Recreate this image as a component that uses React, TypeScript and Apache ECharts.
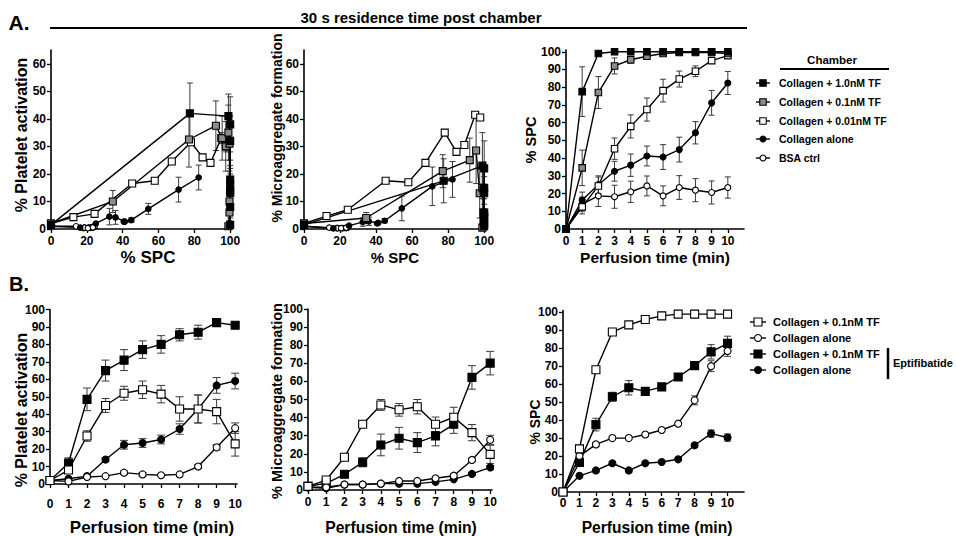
import React, { useEffect, useRef } from 'react';
import * as echarts from 'echarts';

const FONT = '"Liberation Sans", Arial, Helvetica, sans-serif';

// ---------- shared categories ----------
const TIME = [0, 1, 2, 3, 4, 5, 6, 7, 8, 9, 10];
const SPC_TICKS = [0, 20, 40, 60, 80, 100];
const Y65_TICKS = [0, 10, 20, 30, 40, 50, 60];
const Y100_TICKS = [0, 10, 20, 30, 40, 50, 60, 70, 80, 90, 100];

// ---------- Panel A names ----------
const A_NAMES = ['Collagen + 1.0nM TF', 'Collagen + 0.1nM TF', 'Collagen + 0.01nM TF', 'Collagen alone', 'BSA ctrl'];

// ---------- Panel A3: % SPC vs perfusion time ----------
const A_SPC_TF10 = [0, 77.5, 99, 100, 100, 100, 100, 100, 100, 100, 100];
const A_SPC_TF01 = [0, 34.5, 77, 92, 95.5, 97.5, 99, 99.6, 99.6, 99.6, 99];
const A_SPC_TF001 = [0, 12.5, 24.3, 45.3, 57.9, 67.4, 78.1, 84.6, 89, 95, 97.8];
const A_SPC_ALONE = [0, 16.3, 25, 32.6, 36, 41.2, 40.6, 44.8, 54.3, 71.2, 82.4];
const A_SPC_BSA = [0, 14, 18.7, 18.2, 21, 24.3, 18.7, 23.4, 21.9, 20.6, 23.4];
const A_SPC_TF10_ERR = [0, 14, 1, 0.5, 0.5, 0.5, 0.5, 0.5, 0.5, 0.5, 0.5];
const A_SPC_TF01_ERR = [0, 10, 9, 4.5, 2, 1.5, 1, 0.5, 0.5, 0.5, 0.5];
const A_SPC_TF001_ERR = [0, 4, 5, 6, 6.5, 6.5, 6.4, 4.5, 3, 1, 1];
const A_SPC_ALONE_ERR = [0, 4.5, 5, 5.6, 6.3, 5.6, 7, 7, 6.3, 7, 6.5];
const A_SPC_BSA_ERR = [0, 4, 6, 6.5, 6, 5.6, 5.6, 6.7, 6.5, 6.5, 6];

// ---------- Panel A1: % platelet activation vs % SPC ----------
const A_PA_TF10 = [1.5, 42, 41, 38, 32, 18, 16, 14, 13, 8, 1.5];
const A_PA_TF01 = [2, 10, 32.5, 37.5, 33, 30, 35, 31, 10, 6, 1];
const A_PA_TF001 = [2, 4.3, 5.5, 16.5, 17.5, 24.5, 31.5, 26, 24, 33, 30];
const A_PA_ALONE = [1, 0.5, 2, 4.5, 4.2, 2.7, 2.7, 3.2, 7.3, 14.3, 18.7];
const A_PA_BSA = [1, 1, 0.5, 0.3, 0.5, 0.8, 0.5, 0.5, 0.4, 0.3, 0.6];
const A_PA_TF10_ERR = [0, 11, 8, 10, 9, 7, 6, 6, 5, 4, 1];
const A_PA_TF01_ERR = [0, 4, 10, 9, 8, 9, 10, 10, 5, 3, 1];
const A_PA_TF001_ERR = [0, 0.5, 0.5, 1, 1, 1, 1, 1, 1, 2, 2];
const A_PA_ALONE_ERR = [0, 0.5, 0.5, 3, 2.5, 0.5, 0.5, 0.8, 2, 4.5, 4.5];
const A_PA_BSA_ERR = [0, 0.3, 0.3, 0.3, 0.3, 0.3, 0.3, 0.3, 0.3, 0.3, 0.3];

// ---------- Panel A2: % microaggregate formation vs % SPC ----------
const A_MA_TF10 = [1.5, 17.5, 23, 22, 15, 13, 6, 5, 4, 2, 1];
const A_MA_TF01 = [2, 4, 21, 25, 28.5, 13, 15, 14, 6, 3, 0.5];
const A_MA_TF001 = [2, 4.7, 7, 17.5, 17, 24, 35, 28, 30.5, 41.5, 40.5];
const A_MA_ALONE = [1, 0.2, 1.2, 2.5, 2.8, 2.2, 2, 3, 7.5, 15.5, 18];
const A_MA_BSA = [1, 0.5, 0.3, 0.3, 0.3, 0.5, 0.3, 0.3, 0.3, 0.3, 0.5];
const A_MA_TF10_ERR = [0, 8, 12, 10, 8, 6, 5, 4, 3, 2, 1];
const A_MA_TF01_ERR = [0, 2, 6, 8, 12, 9, 8, 7, 5, 3, 1];
const A_MA_TF001_ERR = [0, 0.5, 0.5, 0.5, 0.5, 0.5, 0.5, 0.5, 0.5, 0.5, 0.5];
const A_MA_ALONE_ERR = [0, 0.3, 0.5, 1.5, 1.5, 0.5, 0.5, 0.8, 4.5, 7, 6.5];
const A_MA_BSA_ERR = [0, 0.3, 0.3, 0.3, 0.3, 0.3, 0.3, 0.3, 0.3, 0.3, 0.3];

// ---------- Panel B names ----------
const B_NAMES = ['Collagen + 0.1nM TF', 'Collagen alone', 'Collagen + 0.1nM TF', 'Collagen alone'];

// ---------- Panel B1: % platelet activation ----------
const B_PA_TF01 = [2, 8, 27.5, 45, 52, 54, 51.5, 43, 43, 41.5, 23];
const B_PA_ALONE = [2, 1.5, 4, 4.5, 6.5, 5.5, 5, 5.5, 10, 21, 32];
const B_PA_TF01_EPT = [2, 12, 48.5, 65, 71, 77, 80, 85.5, 87, 92.5, 91];
const B_PA_ALONE_EPT = [2, 3, 4.5, 14, 22.5, 23.5, 25.5, 31.5, 43, 56.5, 59];
const B_PA_TF01_ERR = [0, 1.5, 3, 4, 4, 5, 5, 7, 8, 7, 7];
const B_PA_ALONE_ERR = [0, 0.5, 0.5, 0.5, 1, 1, 0.5, 0.5, 1, 1.5, 3];
const B_PA_TF01_EPT_ERR = [0, 3, 6.5, 6, 6, 5, 5, 3.5, 4, 1, 1];
const B_PA_ALONE_EPT_ERR = [0, 0.5, 0.5, 1, 2.5, 2.5, 2.5, 3, 8, 4.5, 4.5];

// ---------- Panel B2: % microaggregate formation ----------
const B_MA_TF01 = [2, 5.5, 18.1, 36.3, 47, 44.3, 46, 36.3, 40.2, 31.7, 19.7];
const B_MA_ALONE = [1.5, 1.5, 3, 3, 3.5, 5, 5, 6.5, 7.9, 16.6, 27.7];
const B_MA_TF01_EPT = [2, 3.7, 8.7, 15.3, 24.9, 28.6, 26.2, 29.9, 36.3, 62.2, 70.1];
const B_MA_ALONE_EPT = [1.5, 1, 3, 3, 3.5, 3.5, 3.5, 4.5, 5.9, 8.9, 12.5];
const B_MA_TF01_ERR = [0, 0.5, 1, 1, 3, 3.5, 4, 4, 5.5, 4.5, 5];
const B_MA_ALONE_ERR = [0, 0.3, 0.3, 0.3, 0.5, 0.5, 0.5, 0.5, 0.8, 1, 2.5];
const B_MA_TF01_EPT_ERR = [0, 0.5, 1, 2.5, 6, 6, 5.5, 5.5, 5, 6.5, 6.5];
const B_MA_ALONE_EPT_ERR = [0, 0.3, 0.3, 0.3, 0.3, 0.3, 0.3, 0.3, 0.5, 0.8, 1];

// ---------- Panel B3: % SPC ----------
const B_SPC_TF01 = [0, 24, 68, 89, 93, 96, 98, 99, 99, 99, 99];
const B_SPC_ALONE = [0, 20, 26.5, 30, 30, 32, 34.5, 38, 51, 70, 78.5];
const B_SPC_TF01_EPT = [0, 16.5, 37.5, 53, 58, 56, 58.5, 64, 70.3, 78, 82.7];
const B_SPC_ALONE_EPT = [0, 9, 12, 16, 12, 16, 16.7, 18.2, 26, 32.5, 30.3];
const B_SPC_TF01_ERR = [0, 2, 1.5, 1, 1, 0.5, 0.5, 0.5, 0.5, 0.5, 0.5];
const B_SPC_ALONE_ERR = [0, 1, 1, 0.5, 0.5, 0.5, 0.5, 0.5, 2.5, 3, 3];
const B_SPC_TF01_EPT_ERR = [0, 1.5, 3.5, 2.5, 4, 2, 1, 1, 1, 4, 4];
const B_SPC_ALONE_EPT_ERR = [0, 0.5, 0.5, 0.5, 0.5, 0.5, 0.5, 0.5, 1, 2, 2];

// ---------- styles ----------
type Sty = { symbol: 'rect' | 'circle'; fill: string };
const BLACK_SQ: Sty = { symbol: 'rect', fill: '#000' };
const GRAY_SQ: Sty = { symbol: 'rect', fill: '#8c8c8c' };
const WHITE_SQ: Sty = { symbol: 'rect', fill: '#fff' };
const BLACK_CI: Sty = { symbol: 'circle', fill: '#000' };
const WHITE_CI: Sty = { symbol: 'circle', fill: '#fff' };
const A_STY = [BLACK_SQ, GRAY_SQ, WHITE_SQ, BLACK_CI, WHITE_CI];
const B_STY = [WHITE_SQ, WHITE_CI, BLACK_SQ, BLACK_CI];

function lineSeries(name: string, xs: number[], ys: number[], sty: Sty, gi: number, sqSize: number, ciSize: number) {
  return {
    type: 'line',
    name,
    xAxisIndex: gi,
    yAxisIndex: gi,
    data: xs.map((x, i) => [x, ys[i]]),
    symbol: sty.symbol,
    symbolSize: sty.symbol === 'rect' ? sqSize : ciSize,
    showSymbol: true,
    showAllSymbol: true,
    clip: false,
    silent: true,
    z: 3,
    lineStyle: { color: '#000', width: 1.4 },
    itemStyle: { color: sty.fill, borderColor: '#000', borderWidth: 1.1 },
  };
}

function errSeries(xs: number[], ys: number[], es: number[], gi: number, cap: number) {
  return {
    type: 'custom',
    xAxisIndex: gi,
    yAxisIndex: gi,
    silent: true,
    z: 2,
    data: xs.map((x, i) => [x, ys[i], es[i]]),
    renderItem: (_p: any, api: any) => {
      const x = api.value(0);
      const y = api.value(1);
      const e = api.value(2);
      if (!e || e < 0.8) return { type: 'group', children: [] };
      const t = api.coord([x, y + e]);
      const b = api.coord([x, Math.max(0, y - e)]);
      const st = { stroke: '#3a3a3a', lineWidth: 1 };
      return {
        type: 'group',
        children: [
          { type: 'line', shape: { x1: t[0], y1: t[1], x2: b[0], y2: b[1] }, style: st },
          { type: 'line', shape: { x1: t[0] - cap, y1: t[1], x2: t[0] + cap, y2: t[1] }, style: st },
          { type: 'line', shape: { x1: b[0] - cap, y1: b[1], x2: b[0] + cap, y2: b[1] }, style: st },
        ],
      };
    },
  };
}

function axis(min: number, max: number, ticks: number[], interval: number, margin: number) {
  return {
    type: 'value',
    min,
    max,
    interval,
    axisLine: { show: true, onZero: false, lineStyle: { color: '#000', width: 1.6 } },
    axisTick: { show: true, length: 4, customValues: ticks, lineStyle: { color: '#000', width: 1.3 } },
    axisLabel: {
      show: true,
      customValues: ticks,
      color: '#000',
      fontSize: 12,
      fontWeight: 'bold',
      fontFamily: FONT,
      margin,
    },
    splitLine: { show: false },
  };
}

function txt(text: string, x: number, y: number, size: number, opts: any = {}) {
  return {
    type: 'text',
    x,
    y,
    rotation: opts.rot || 0,
    silent: true,
    style: {
      text,
      fill: '#000',
      font: `bold ${size}px ${FONT}`,
      align: opts.align || 'center',
      verticalAlign: 'middle',
    },
  };
}

function marker(sty: Sty, cx: number, cy: number, size: number) {
  const style = { fill: sty.fill, stroke: '#000', lineWidth: 1.1 };
  if (sty.symbol === 'rect') {
    return { type: 'rect', silent: true, shape: { x: cx - size / 2, y: cy - size / 2, width: size, height: size }, style };
  }
  return { type: 'circle', silent: true, shape: { cx, cy, r: size / 2 }, style };
}

function legendItem(sty: Sty, name: string, x0: number, x1: number, y: number, tx: number, sq: number, ci: number, fs: number) {
  return [
    { type: 'line', silent: true, shape: { x1: x0, y1: y, x2: x1, y2: y }, style: { stroke: '#000', lineWidth: 1.4 } },
    marker(sty, (x0 + x1) / 2, y, sty.symbol === 'rect' ? sq : ci),
    txt(name, tx, y, fs, { align: 'left' }),
  ];
}

export default function App() {
  const ref = useRef<HTMLDivElement>(null);

  useEffect(() => {
    if (!ref.current) return;
    const chart = echarts.init(ref.current, undefined, { renderer: 'svg' });

    const grids = [
      { left: 51, top: 50, width: 181, height: 179 },
      { left: 304, top: 50, width: 182, height: 179 },
      { left: 566, top: 50, width: 178, height: 179 },
      { left: 50, top: 309.5, width: 187, height: 174.5 },
      { left: 308, top: 309, width: 184, height: 181 },
      { left: 563, top: 310.5, width: 181, height: 181.5 },
    ];
    const xAxes = [
      { gridIndex: 0, ...axis(0, 101, SPC_TICKS, 20, 6) },
      { gridIndex: 1, ...axis(0, 101, SPC_TICKS, 20, 6) },
      { gridIndex: 2, ...axis(0, 11, TIME, 1, 6) },
      { gridIndex: 3, ...axis(0, 10.1, TIME, 1, 14) },
      { gridIndex: 4, ...axis(0, 10.1, TIME, 1, 6) },
      { gridIndex: 5, ...axis(0, 11, TIME, 1, 5) },
    ];
    const yAxes = [
      { gridIndex: 0, ...axis(0, 65, Y65_TICKS, 10, 5) },
      { gridIndex: 1, ...axis(0, 65, Y65_TICKS, 10, 5) },
      { gridIndex: 2, ...axis(0, 101, Y100_TICKS, 10, 5) },
      { gridIndex: 3, ...axis(0, 100, Y100_TICKS, 10, 5) },
      { gridIndex: 4, ...axis(0, 100, Y100_TICKS, 10, 5) },
      { gridIndex: 5, ...axis(0, 101, Y100_TICKS, 10, 5) },
    ];

    const aSpc = [A_SPC_TF10, A_SPC_TF01, A_SPC_TF001, A_SPC_ALONE, A_SPC_BSA];
    const aSpcErr = [A_SPC_TF10_ERR, A_SPC_TF01_ERR, A_SPC_TF001_ERR, A_SPC_ALONE_ERR, A_SPC_BSA_ERR];
    const aPa = [A_PA_TF10, A_PA_TF01, A_PA_TF001, A_PA_ALONE, A_PA_BSA];
    const aPaErr = [A_PA_TF10_ERR, A_PA_TF01_ERR, A_PA_TF001_ERR, A_PA_ALONE_ERR, A_PA_BSA_ERR];
    const aMa = [A_MA_TF10, A_MA_TF01, A_MA_TF001, A_MA_ALONE, A_MA_BSA];
    const aMaErr = [A_MA_TF10_ERR, A_MA_TF01_ERR, A_MA_TF001_ERR, A_MA_ALONE_ERR, A_MA_BSA_ERR];

    const bPa = [B_PA_TF01, B_PA_ALONE, B_PA_TF01_EPT, B_PA_ALONE_EPT];
    const bPaErr = [B_PA_TF01_ERR, B_PA_ALONE_ERR, B_PA_TF01_EPT_ERR, B_PA_ALONE_EPT_ERR];
    const bMa = [B_MA_TF01, B_MA_ALONE, B_MA_TF01_EPT, B_MA_ALONE_EPT];
    const bMaErr = [B_MA_TF01_ERR, B_MA_ALONE_ERR, B_MA_TF01_EPT_ERR, B_MA_ALONE_EPT_ERR];
    const bSpc = [B_SPC_TF01, B_SPC_ALONE, B_SPC_TF01_EPT, B_SPC_ALONE_EPT];
    const bSpcErr = [B_SPC_TF01_ERR, B_SPC_ALONE_ERR, B_SPC_TF01_EPT_ERR, B_SPC_ALONE_EPT_ERR];

    const series: any[] = [];
    // reverse order so the first-listed series draws on top
    for (let k = A_NAMES.length - 1; k >= 0; k--) {
      series.push(errSeries(aSpc[k], aPa[k], aPaErr[k], 0, 3));
      series.push(lineSeries(A_NAMES[k], aSpc[k], aPa[k], A_STY[k], 0, 7, 5.5));
      series.push(errSeries(aSpc[k], aMa[k], aMaErr[k], 1, 3));
      series.push(lineSeries(A_NAMES[k], aSpc[k], aMa[k], A_STY[k], 1, 7, 5.5));
      series.push(errSeries(TIME, aSpc[k], aSpcErr[k], 2, 3));
      series.push(lineSeries(A_NAMES[k], TIME, aSpc[k], A_STY[k], 2, 6.5, 6));
    }
    for (let k = B_NAMES.length - 1; k >= 0; k--) {
      series.push(errSeries(TIME, bPa[k], bPaErr[k], 3, 4));
      series.push(lineSeries(B_NAMES[k], TIME, bPa[k], B_STY[k], 3, 8, 7));
      series.push(errSeries(TIME, bMa[k], bMaErr[k], 4, 4));
      series.push(lineSeries(B_NAMES[k], TIME, bMa[k], B_STY[k], 4, 8, 7));
      series.push(errSeries(TIME, bSpc[k], bSpcErr[k], 5, 3.5));
      series.push(lineSeries(B_NAMES[k], TIME, bSpc[k], B_STY[k], 5, 8, 7));
    }

    const VERT = Math.PI / 2;
    const graphic: any[] = [
      txt('A.', 19, 22, 21, {}),
      txt('B.', 19, 284, 20, {}),
      txt('30 s residence time post chamber', 421, 17, 15, {}),
      { type: 'line', silent: true, shape: { x1: 50, y1: 28, x2: 747, y2: 28 }, style: { stroke: '#000', lineWidth: 2 } },
      // axis titles, panel A
      txt('% Platelet activation', 21, 135, 16, { rot: VERT }),
      txt('% Microaggregate formation', 277, 128, 14, { rot: VERT }),
      txt('% SPC', 531, 140, 14.5, { rot: VERT }),
      txt('% SPC', 148, 257, 17, {}),
      txt('% SPC', 395, 257, 15, {}),
      txt('Perfusion time (min)', 655, 257, 15.5, {}),
      // axis titles, panel B
      txt('% Platelet activation', 21, 410, 16, { rot: VERT }),
      txt('% Microaggregate formation', 277, 401, 14.5, { rot: VERT }),
      txt('% SPC', 535, 422, 14, { rot: VERT }),
      txt('Perfusion time (min)', 152, 527, 17, {}),
      txt('Perfusion time (min)', 401, 527, 15.7, {}),
      txt('Perfusion time (min)', 657, 527, 15.6, {}),
      // legend A
      txt('Chamber', 832, 60, 11.5, {}),
      { type: 'line', silent: true, shape: { x1: 780, y1: 69, x2: 889, y2: 69 }, style: { stroke: '#000', lineWidth: 2 } },
      // legend B bracket
      { type: 'line', silent: true, shape: { x1: 888, y1: 348, x2: 888, y2: 379 }, style: { stroke: '#000', lineWidth: 2.5 } },
      txt('Eptifibatide', 893, 363, 11, { align: 'left' }),
    ];
    const A_LEG_Y = [83, 102, 121, 139, 158];
    A_NAMES.forEach((n, i) => {
      graphic.push(...legendItem(A_STY[i], n, 756, 770, A_LEG_Y[i], 779, 6.5, 6, 10.5));
    });
    const B_LEG_Y = [322, 338, 354, 370];
    B_NAMES.forEach((n, i) => {
      graphic.push(...legendItem(B_STY[i], n, 750, 766, B_LEG_Y[i], 773, 8, 7, 11));
    });

    chart.setOption({
      animation: false,
      backgroundColor: '#fff',
      textStyle: { fontFamily: FONT },
      grid: grids,
      xAxis: xAxes,
      yAxis: yAxes,
      series,
      graphic,
    });

    return () => {
      chart.dispose();
    };
  }, []);

  return (
    <div
      ref={ref}
      style={{ position: 'fixed', left: 0, top: 0, width: 957, height: 536, background: '#fff' }}
    />
  );
}
